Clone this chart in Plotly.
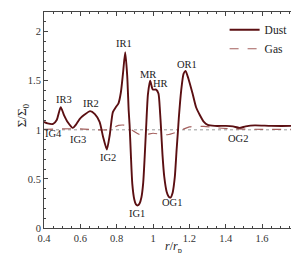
import plotly.graph_objects as go

# Dust surface density profile
dust_r = [0.40, 0.42, 0.45, 0.47, 0.492, 0.51, 0.53, 0.559, 0.575, 0.596, 0.62, 0.654, 0.68, 0.706,
          0.725, 0.746, 0.762, 0.779, 0.795, 0.810, 0.823, 0.835, 0.847, 0.858, 0.866, 0.871, 0.878,
          0.886, 0.897, 0.906, 0.916, 0.926, 0.936, 0.946, 0.954, 0.962, 0.972, 0.984, 0.999, 1.017,
          1.030, 1.038, 1.044, 1.052, 1.062, 1.075, 1.086, 1.096, 1.108, 1.120, 1.130, 1.137, 1.142,
          1.155, 1.168, 1.179, 1.195, 1.219, 1.237, 1.255, 1.28, 1.301, 1.34, 1.40, 1.44, 1.475,
          1.51, 1.56, 1.65, 1.82]
dust_s = [1.08, 1.065, 1.06, 1.10, 1.23, 1.15, 1.08, 1.02, 1.05, 1.11, 1.15, 1.19, 1.16, 1.08,
          0.93, 0.80, 0.95, 1.18, 1.23, 1.27, 1.38, 1.58, 1.79, 1.55, 1.20, 1.05, 0.75,
          0.45, 0.29, 0.24, 0.23, 0.25, 0.31, 0.46, 0.72, 1.02, 1.36, 1.50, 1.41, 1.41,
          1.37, 1.20, 1.02, 0.75, 0.52, 0.37, 0.32, 0.31, 0.36, 0.52, 0.80, 0.98, 1.12,
          1.40, 1.57, 1.60, 1.52, 1.36, 1.23, 1.16, 1.08, 1.05, 1.04, 1.04, 1.035, 1.02,
          1.035, 1.045, 1.04, 1.04]

# Gas surface density profile
gas_r = [0.40, 0.50, 0.60, 0.70, 0.75, 0.78, 0.81, 0.85, 0.89, 0.93, 0.97, 1.00, 1.04, 1.08,
         1.12, 1.16, 1.20, 1.28, 1.35, 1.45, 1.60, 1.82]
gas_s = [1.005, 1.01, 1.01, 1.0, 1.0, 1.02, 1.045, 1.045, 0.99, 0.95, 0.955, 0.965, 0.955, 0.95,
         0.97, 1.0, 1.03, 1.035, 1.02, 1.01, 1.005, 1.005]

# Feature labels
lab_text = ["IR3", "IG4", "IG3", "IR2", "IG2", "IR1", "IG1", "MR", "HR", "OG1", "OR1", "OG2"]
lab_r = [0.508, 0.455, 0.586, 0.656, 0.752, 0.838, 0.912, 0.973, 1.043, 1.104, 1.186, 1.465]
lab_s = [1.31, 0.965, 0.905, 1.265, 0.715, 1.88, 0.15, 1.565, 1.47, 0.255, 1.67, 0.91]

serif = "Liberation Serif"
dust_col = "#5b0f12"
gas_col = "#a4605e"

fig = go.Figure()
fig.add_trace(go.Scatter(x=[0.4, 1.82], y=[1, 1], mode="lines", showlegend=False,
                         line=dict(color="#999999", width=1, dash="dot"), hoverinfo="skip"))
fig.add_trace(go.Scatter(x=gas_r, y=gas_s, mode="lines", name="Gas",
                         line=dict(color=gas_col, width=1.2, dash="dash", shape="spline", smoothing=0.8)))
fig.add_trace(go.Scatter(x=dust_r, y=dust_s, mode="lines", name="Dust",
                         line=dict(color=dust_col, width=1.9, shape="spline", smoothing=0.6)))

for t, x, y in zip(lab_text, lab_r, lab_s):
    fig.add_annotation(x=x, y=y, text=t, showarrow=False,
                       font=dict(family=serif, size=10.5, color="#222222"))

# axis titles as annotations
fig.add_annotation(x=0.5, y=-0.13, xref="paper", yref="paper", text="<i>r</i>/<i>r</i><sub>p</sub>",
                   showarrow=False, xanchor="center", yanchor="bottom", borderpad=0,
                   font=dict(family=serif, size=12, color="#222222"))
fig.add_annotation(x=-0.083, y=0.52, xref="paper", yref="paper", text="Σ/Σ<sub>0</sub>",
                   showarrow=False, textangle=-90, xanchor="center", yanchor="middle",
                   font=dict(family=serif, size=13, color="#222222"))

axis_common = dict(showline=True, linecolor="#444444", linewidth=1, mirror="allticks",
                   ticks="inside", ticklen=4, tickcolor="#444444", showgrid=False, zeroline=False,
                   tickfont=dict(family=serif, size=10.5, color="#333333"))

fig.update_xaxes(range=[0.4, 1.82], tickvals=[0.4, 0.6, 0.8, 1.0, 1.2, 1.4, 1.6],
                 ticktext=["0.4", "0.6", "0.8", "1", "1.2", "1.4", "1.6"],
                 minor=dict(dtick=0.05, ticks="inside", ticklen=2, tickcolor="#444444"),
                 ticklabelstandoff=0,
                 **axis_common)
fig.update_yaxes(range=[0, 2.2], tickvals=[0, 0.5, 1, 1.5, 2], ticktext=["0", "0.5", "1", "1.5", "2"],
                 minor=dict(dtick=0.1, ticks="inside", ticklen=2, tickcolor="#444444"),
                 **axis_common)

fig.update_layout(width=299, height=253, margin=dict(l=36, r=5, t=4, b=33),
                  paper_bgcolor="white", plot_bgcolor="white",
                  legend=dict(x=0.70, y=0.985, xanchor="left", yanchor="top", bgcolor="rgba(0,0,0,0)",
                              font=dict(family=serif, size=11.5, color="#222222"), tracegroupgap=0,
                              itemwidth=30, traceorder="reversed"),
                  showlegend=True)

fig.write_html("out.html")
